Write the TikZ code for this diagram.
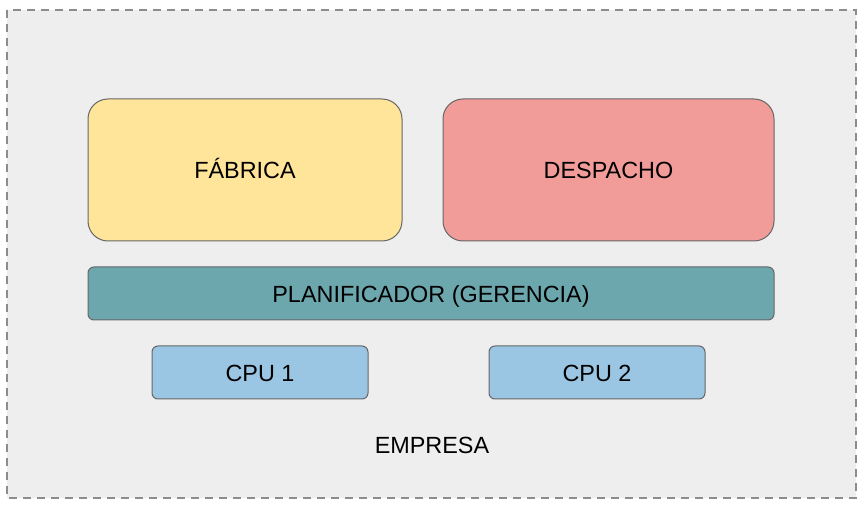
\documentclass[tikz,border=0pt]{standalone}
\usepackage{fontspec}
\setmainfont{Liberation Sans}

\begin{document}
\begin{tikzpicture}[x=0.5pt,y=-0.5pt,
    caja/.style={draw=gray1,line width=0.5pt,rounded corners=10pt,text height=9pt,text depth=0pt,font=\fontsize{11.7}{14}\selectfont},
    barra/.style={caja,rounded corners=3pt,minimum height=26.5pt}]
\definecolor{gray1}{RGB}{102,102,102}
\definecolor{fondo}{RGB}{238,238,238}
\definecolor{yellow1}{RGB}{255,229,153}
\definecolor{red1}{RGB}{241,156,153}
\definecolor{teal1}{RGB}{108,167,174}
\definecolor{blue1}{RGB}{154,198,228}
\useasboundingbox (0,0) rectangle (864,508);
\draw[fill=fondo,draw=gray!90,line width=0.6pt,dash pattern=on 4pt off 3pt] (7,10) rectangle (856,498);
\node[caja,fill=yellow1,minimum width=157pt,minimum height=71pt] (fabrica) at (245,170) {FÁBRICA};
\node[caja,fill=red1,minimum width=165.5pt,minimum height=71pt] (despacho) at (608.5,170) {DESPACHO};
\node[barra,fill=teal1,minimum width=343pt] (planificador) at (431,293.5) {PLANIFICADOR (GERENCIA)};
\node[barra,fill=blue1,minimum width=108pt] (cpu1) at (260,372.5) {CPU 1};
\node[barra,fill=blue1,minimum width=108pt] (cpu2) at (597,372.5) {CPU 2};
\node[font=\fontsize{11.7}{14}\selectfont] (empresa) at (432,445) {EMPRESA};
\end{tikzpicture}
\end{document}
